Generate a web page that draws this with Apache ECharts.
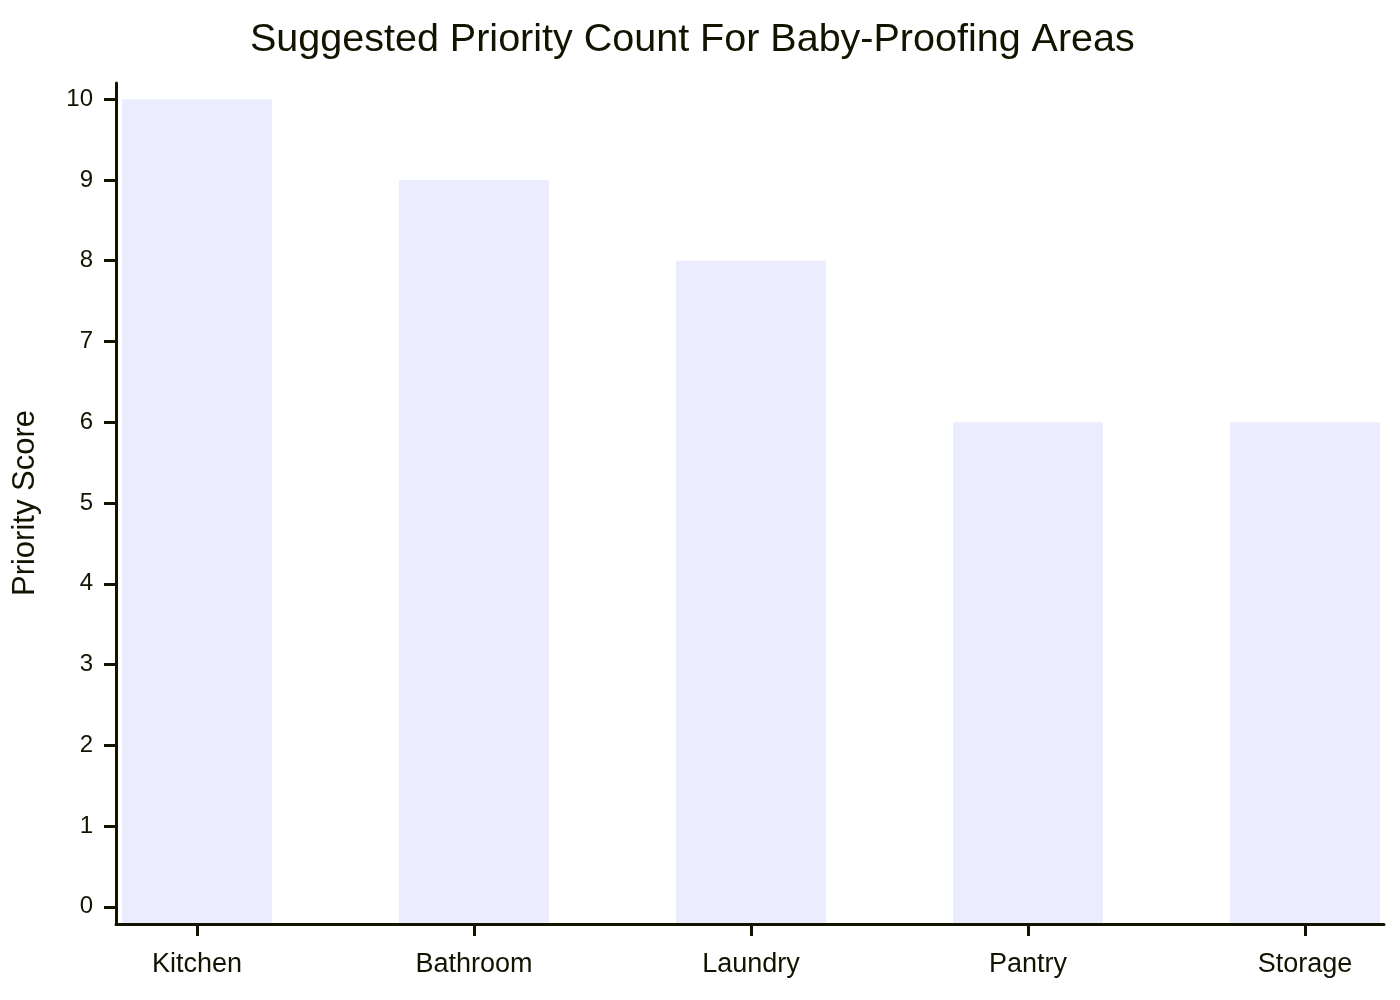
<!DOCTYPE html>
<html>
<head>
<meta charset="utf-8">
<script src="https://cdn.jsdelivr.net/npm/echarts@6/dist/echarts.min.js"></script>
<style>
html,body{margin:0;padding:0;background:#fff;}
#chart{width:1400px;height:1000px;}
</style>
</head>
<body>
<div id="chart"></div>
<script>
const chartTitle = 'Suggested Priority Count For Baby-Proofing Areas';
const yAxisTitle = 'Priority Score';
const categories = ['Kitchen', 'Bathroom', 'Laundry', 'Pantry', 'Storage'];
const priorityScores = [10, 9, 8, 6, 6];
const yTickValues = [0, 1, 2, 3, 4, 5, 6, 7, 8, 9, 10];

const FONT = "'Liberation Sans', Arial, sans-serif";
const INK = '#131300';
const BAR = '#ECECFF';
const Y_MIN = -0.2, Y_MAX = 10.2;

const chart = echarts.init(document.getElementById('chart'), null, {renderer: 'canvas'});
chart.setOption({
  animation: false,
  backgroundColor: '#ffffff',
  title: {
    text: chartTitle,
    left: 245,
    top: 15,
    textStyle: {fontFamily: FONT, fontSize: 39.5, fontWeight: 'normal', color: INK}
  },
  grid: [
    {left: 116, right: 16, top: 83, bottom: 77, outerBoundsMode: 'none', containLabel: false},
    {left: 197, right: 95, top: 83, bottom: 77, outerBoundsMode: 'none', containLabel: false}
  ],
  xAxis: [
    {
      gridIndex: 0, type: 'value', min: 0, max: 1, offset: 1, z: 5,
      axisLine: {show: true, onZero: false, lineStyle: {color: INK, width: 3}},
      axisTick: {show: false}, axisLabel: {show: false}, splitLine: {show: false}
    },
    {
      gridIndex: 1, type: 'category', data: categories, boundaryGap: false, offset: 1, z: 5,
      axisLine: {show: false, onZero: false},
      axisTick: {show: true, length: 12, lineStyle: {color: INK, width: 3}},
      axisLabel: {show: true, fontFamily: FONT, fontSize: 27, color: INK, margin: 27, interval: 0},
      splitLine: {show: false}
    }
  ],
  yAxis: [
    {
      gridIndex: 0, type: 'value', min: Y_MIN, max: Y_MAX, z: 5,
      name: yAxisTitle, nameLocation: 'middle', nameRotate: 90, nameGap: 75,
      nameTextStyle: {fontFamily: FONT, fontSize: 31, color: INK},
      axisLine: {show: true, onZero: false, lineStyle: {color: INK, width: 3}},
      axisTick: {show: true, length: 12, customValues: yTickValues, lineStyle: {color: INK, width: 3}},
      axisLabel: {show: true, customValues: yTickValues, fontFamily: FONT, fontSize: 24, color: INK, margin: 23, padding: [0, 0, 6, 0]},
      splitLine: {show: false}
    },
    {
      gridIndex: 1, type: 'value', min: Y_MIN, max: Y_MAX, startValue: Y_MIN, show: false,
      splitLine: {show: false}
    }
  ],
  series: [{
    type: 'bar',
    xAxisIndex: 1, yAxisIndex: 1,
    data: priorityScores,
    barWidth: 150,
    itemStyle: {color: BAR},
    z: 1
  }]
});
</script>
</body>
</html>
